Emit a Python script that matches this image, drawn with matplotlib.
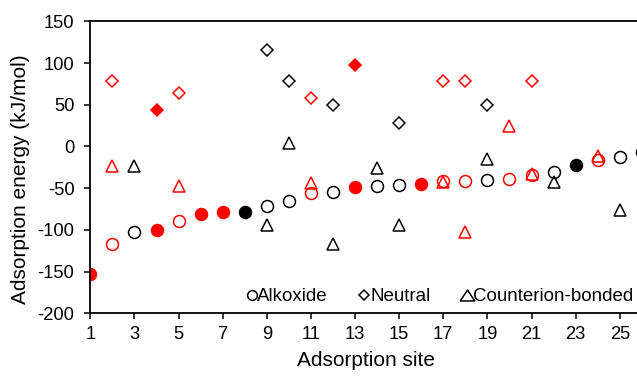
import matplotlib
matplotlib.use("Agg")
import matplotlib.pyplot as plt
from matplotlib.lines import Line2D

plt.rcParams['font.family'] = ['Liberation Sans', 'DejaVu Sans']
plt.rcParams['axes.unicode_minus'] = False

RED = '#ff0000'
BLACK = '#000000'

# Alkoxide (circles)
alk_red_filled_x = [1, 4, 6, 7, 13, 16]
alk_red_filled_y = [-153, -100, -81, -79, -49, -45]
alk_red_open_x = [2, 5, 11, 17, 18, 20, 21, 24]
alk_red_open_y = [-117, -89, -56, -42, -41, -39, -34, -16]
alk_black_filled_x = [8, 23]
alk_black_filled_y = [-79, -22]
alk_black_open_x = [3, 9, 10, 12, 14, 15, 19, 22, 25, 26]
alk_black_open_y = [-103, -71, -65, -55, -47, -46, -40, -31, -13, -7]

# Neutral (diamonds)
neu_red_filled_x = [4, 13]
neu_red_filled_y = [44, 98]
neu_red_open_x = [2, 5, 11, 17, 18, 21]
neu_red_open_y = [79, 64, 58, 79, 79, 79]
neu_black_open_x = [9, 10, 12, 15, 19]
neu_black_open_y = [115, 78, 50, 28, 50]

# Counterion-bonded (triangles)
cb_red_open_x = [2, 5, 11, 17, 18, 20, 21, 24]
cb_red_open_y = [-24, -47, -44, -43, -102, 24, -33, -11]
cb_black_open_x = [3, 9, 10, 12, 14, 15, 19, 22, 25]
cb_black_open_y = [-24, -94, 4, -117, -26, -94, -15, -43, -76]

legend_labels = ['Alkoxide', 'Neutral', 'Counterion-bonded']
x_ticks = list(range(1, 26, 2))
y_ticks = list(range(-200, 151, 50))

fig = plt.figure(figsize=(6.37, 3.77), dpi=100)
ax = fig.add_axes([0.1418, 0.1690, 0.8658, 0.7745])

ms_c, ms_d, ms_t = 8.6, 6.3, 8.8
lw = 1.1

def plot(x, y, marker, color, filled, ms):
    ax.plot(x, y, linestyle='none', marker=marker, markersize=ms,
            markeredgecolor=color, markerfacecolor=color if filled else 'none',
            markeredgewidth=lw)

plot(neu_red_open_x, neu_red_open_y, 'D', RED, False, ms_d)
plot(neu_red_filled_x, neu_red_filled_y, 'D', RED, True, ms_d)
plot(neu_black_open_x, neu_black_open_y, 'D', BLACK, False, ms_d)
plot(alk_red_open_x, alk_red_open_y, 'o', RED, False, ms_c)
plot(alk_red_filled_x, alk_red_filled_y, 'o', RED, True, ms_c)
plot(alk_black_open_x, alk_black_open_y, 'o', BLACK, False, ms_c)
plot(alk_black_filled_x, alk_black_filled_y, 'o', BLACK, True, ms_c)
plot(cb_red_open_x, cb_red_open_y, '^', RED, False, ms_t)
plot(cb_black_open_x, cb_black_open_y, '^', BLACK, False, ms_t)

ax.set_xlim(1, 26)
ax.set_ylim(-200, 150)
ax.set_xticks(x_ticks)
ax.set_yticks(y_ticks)
ax.tick_params(axis='both', labelsize=13.2, direction='out', length=4, width=1.1)
ax.tick_params(axis='y', pad=7.5)
ax.tick_params(axis='x', pad=5)
for s in ax.spines.values():
    s.set_linewidth(1.3)

ax.set_xlabel('Adsorption site', fontsize=15, labelpad=6)
ax.set_ylabel('Adsorption energy (kJ/mol)', fontsize=15)
ax.yaxis.set_label_coords(-0.1097, 0.459)

tri_wide = [(-1.0, -0.75), (1.0, -0.75), (0.0, 0.75), (-1.0, -0.75)]
handles = [
    Line2D([], [], linestyle='none', marker='o', markersize=7, markerfacecolor='none', markeredgecolor=BLACK, markeredgewidth=1.1),
    Line2D([], [], linestyle='none', marker='D', markersize=5, markerfacecolor='none', markeredgecolor=BLACK, markeredgewidth=1.1),
    Line2D([], [], linestyle='none', marker=tri_wide, markersize=10.5, markerfacecolor='none', markeredgecolor=BLACK, markeredgewidth=1.1),
]
leg = ax.legend(handles, legend_labels, ncol=3, frameon=False, fontsize=13.5,
                loc='center left', bbox_to_anchor=(0.284, 0.057),
                handlelength=0.5, handletextpad=0.05, columnspacing=1.7,
                borderaxespad=0, borderpad=0)

fig.savefig('out.png', dpi=100)
